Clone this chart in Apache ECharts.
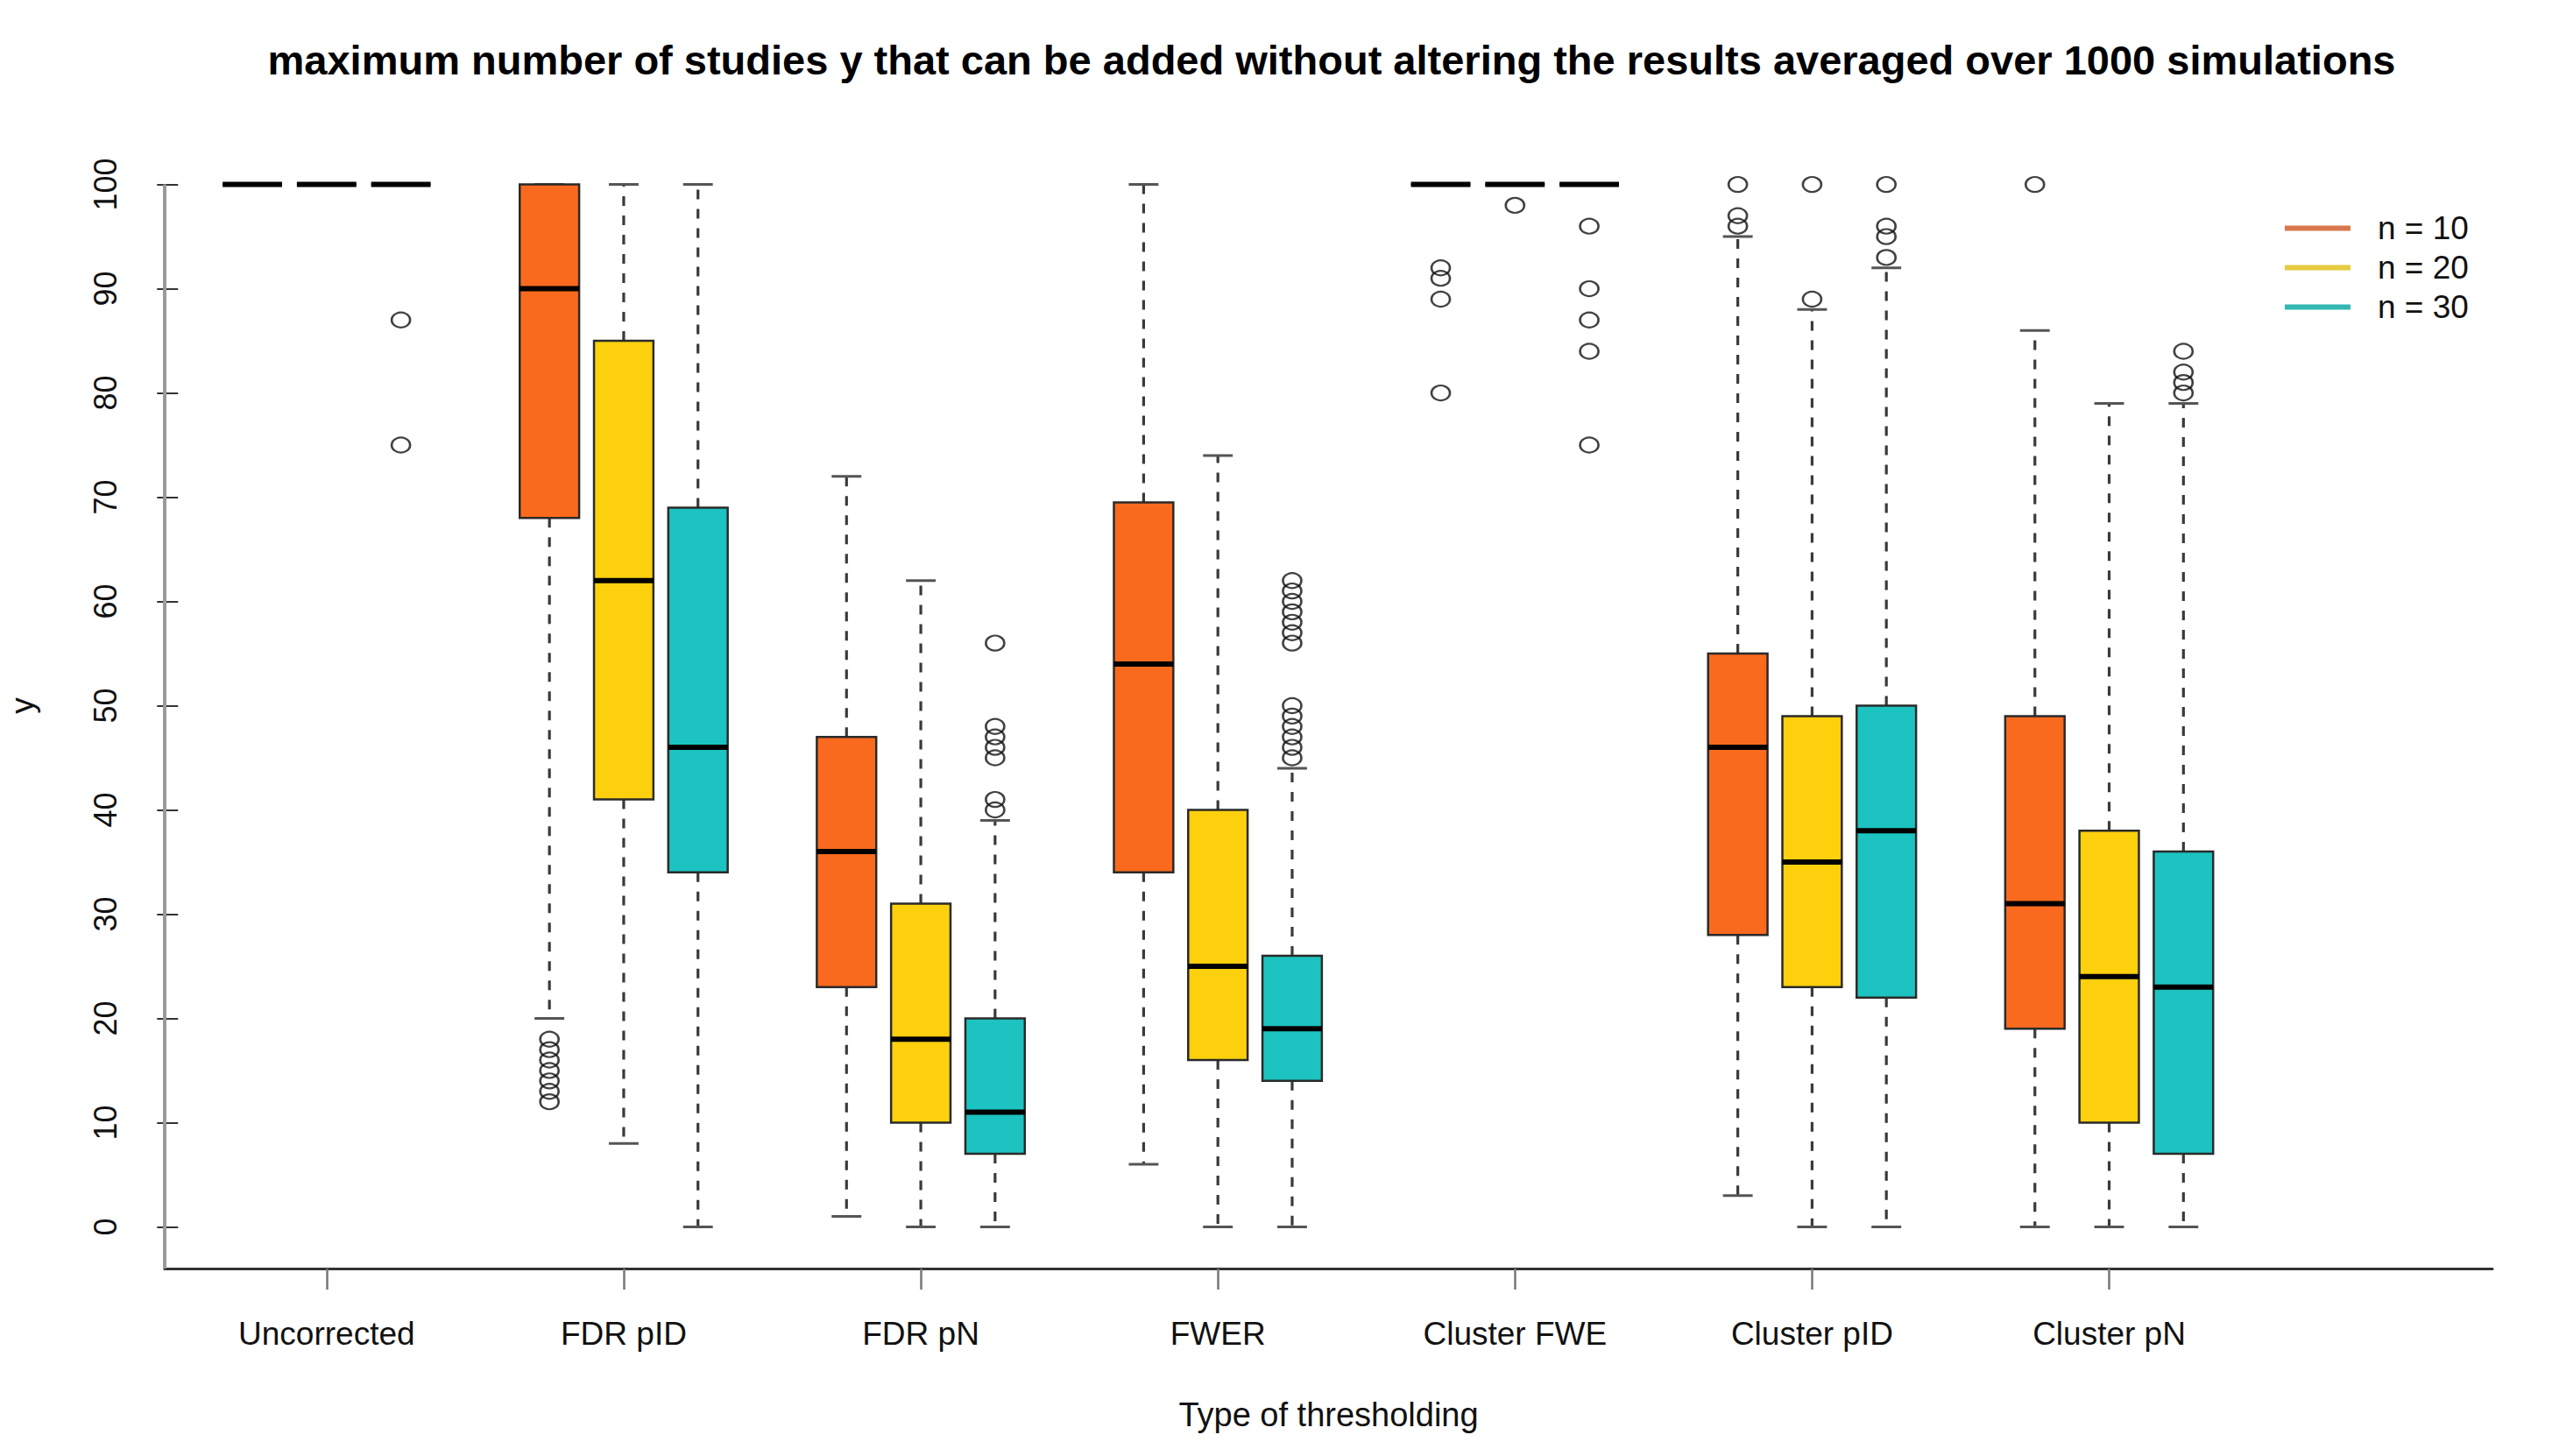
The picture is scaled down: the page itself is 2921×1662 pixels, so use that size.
<!DOCTYPE html>
<html><head><meta charset="utf-8">
<script src="https://cdn.jsdelivr.net/npm/echarts@6/dist/echarts.min.js"></script>
<style>html,body{margin:0;padding:0;background:#fff}#c{width:2921px;height:1662px}</style>
</head><body><div id="c"></div>
<script>
const titleText = 'maximum number of studies y that can be added without altering the results averaged over 1000 simulations';
const xAxisTitle = 'Type of thresholding';
const yAxisTitle = 'y';
const categories = ['Uncorrected', 'FDR pID', 'FDR pN', 'FWER', 'Cluster FWE', 'Cluster pID', 'Cluster pN'];
const groupNames = ['n = 10', 'n = 20', 'n = 30'];
const yTicks = [0, 10, 20, 30, 40, 50, 60, 70, 80, 90, 100];

// per category: [lower whisker, Q1, median, Q3, upper whisker]
const stats10 = [
  [100, 100, 100, 100, 100],
  [20, 68, 90, 100, 100],
  [1, 23, 36, 47, 72],
  [6, 34, 54, 69.5, 100],
  [100, 100, 100, 100, 100],
  [3, 28, 46, 55, 95],
  [0, 19, 31, 49, 86]
];
const stats20 = [
  [100, 100, 100, 100, 100],
  [8, 41, 62, 85, 100],
  [0, 10, 18, 31, 62],
  [0, 16, 25, 40, 74],
  [100, 100, 100, 100, 100],
  [0, 23, 35, 49, 88],
  [0, 10, 24, 38, 79]
];
const stats30 = [
  [100, 100, 100, 100, 100],
  [0, 34, 46, 69, 100],
  [0, 7, 11, 20, 39],
  [0, 14, 19, 26, 44],
  [100, 100, 100, 100, 100],
  [0, 22, 38, 50, 92],
  [0, 7, 23, 36, 79]
];
// outliers: [category index, value]
const outliers10 = [
  [1, 12], [1, 13], [1, 14], [1, 15], [1, 16], [1, 17], [1, 18],
  [4, 92], [4, 91], [4, 89], [4, 80],
  [5, 100], [5, 97], [5, 96],
  [6, 100]
];
const outliers20 = [
  [4, 98],
  [5, 100], [5, 89]
];
const outliers30 = [
  [0, 87], [0, 75],
  [2, 56], [2, 48], [2, 47], [2, 46], [2, 45], [2, 41], [2, 40],
  [3, 62], [3, 61], [3, 60], [3, 59], [3, 58], [3, 57], [3, 56],
  [3, 50], [3, 49], [3, 48], [3, 47], [3, 46], [3, 45],
  [4, 96], [4, 90], [4, 87], [4, 84], [4, 75],
  [5, 100], [5, 96], [5, 95], [5, 93],
  [6, 84], [6, 82], [6, 81], [6, 80]
];

const fillColors = ['#FA6A1E', '#FDD00E', '#1CC3C0'];
const legendColors = ['#D9784E', '#E6CB40', '#34B8B4'];
const FONT = '"Liberation Sans", Arial, sans-serif';
const X_MIN = -0.18, X_MAX = 31.16, Y_MIN = -4, Y_MAX = 104;
const pos = (ci, gi) => 4 * ci + gi + 1;
const tickPos = categories.map((c, i) => pos(i, 1));

function renderBox(params, api) {
  const x = api.value(0);
  const pLo = api.coord([x, api.value(1)]);
  const pQ1 = api.coord([x, api.value(2)]);
  const pMed = api.coord([x, api.value(3)]);
  const pQ3 = api.coord([x, api.value(4)]);
  const pHi = api.coord([x, api.value(5)]);
  const bw = api.size([0.8, 0])[0];
  const cw = bw / 2;
  const cx = pMed[0];
  const fill = api.visual('color');
  const dash = { stroke: '#3a3a3a', lineWidth: 3.2, lineDash: [11, 11] };
  const cap = { stroke: '#555', lineWidth: 3 };
  return {
    type: 'group',
    children: [
      { type: 'line', shape: { x1: cx, y1: pQ1[1], x2: cx, y2: pLo[1] }, style: dash },
      { type: 'line', shape: { x1: cx, y1: pQ3[1], x2: cx, y2: pHi[1] }, style: dash },
      { type: 'line', shape: { x1: cx - cw / 2, y1: pLo[1], x2: cx + cw / 2, y2: pLo[1] }, style: cap },
      { type: 'line', shape: { x1: cx - cw / 2, y1: pHi[1], x2: cx + cw / 2, y2: pHi[1] }, style: cap },
      { type: 'rect', shape: { x: cx - bw / 2, y: pQ3[1], width: bw, height: pQ1[1] - pQ3[1] },
        style: { fill: fill, stroke: '#2a2a2a', lineWidth: 2.5 } },
      { type: 'line', shape: { x1: cx - bw / 2, y1: pMed[1], x2: cx + bw / 2, y2: pMed[1] },
        style: { stroke: '#000', lineWidth: 6 } }
    ]
  };
}

const statsAll = [stats10, stats20, stats30];
const outAll = [outliers10, outliers20, outliers30];
const series = [];
statsAll.forEach((st, g) => {
  series.push({
    name: groupNames[g],
    type: 'custom',
    renderItem: renderBox,
    itemStyle: { color: fillColors[g] },
    encode: { x: 0, y: [1, 2, 3, 4, 5] },
    data: st.map((s, i) => [pos(i, g)].concat(s)),
    z: 3
  });
});
outAll.forEach((out, g) => {
  series.push({
    name: 'out' + g,
    type: 'scatter',
    symbol: 'circle',
    symbolSize: [21, 17],
    itemStyle: { color: 'rgba(0,0,0,0)', borderColor: '#111', borderWidth: 2.4 },
    data: out.map(o => [pos(o[0], g), o[1]]),
    z: 4
  });
});
// left axis line running from the top tick down to the x axis
series.push({
  name: 'yline', type: 'line', silent: true, symbol: 'none', clip: false,
  lineStyle: { color: '#9a9a9a', width: 4 },
  data: [[X_MIN, yTicks[yTicks.length - 1]], [X_MIN, Y_MIN]], z: 1
});

const chart = echarts.init(document.getElementById('c'), null, { renderer: 'svg' });
chart.setOption({
  backgroundColor: '#fff',
  animation: false,
  title: {
    text: titleText, left: 1515, top: 40, textAlign: 'center',
    textStyle: { fontFamily: FONT, fontWeight: 'bold', fontSize: 47, color: '#000' }
  },
  legend: {
    data: groupNames.map((n, g) => ({ name: n, itemStyle: { color: legendColors[g] } })),
    orient: 'vertical', left: 2603, top: 237, icon: 'rect',
    itemWidth: 75, itemHeight: 6, itemGap: 8,
    textStyle: { fontFamily: FONT, fontSize: 37, color: '#111', padding: [0, 0, 0, 26] }
  },
  grid: { left: 188, right: 76, top: 163, bottom: 214, outerBoundsMode: 'none' },
  xAxis: {
    type: 'value', min: X_MIN, max: X_MAX,
    name: xAxisTitle, nameLocation: 'middle', nameGap: 148,
    nameTextStyle: { fontFamily: FONT, fontSize: 38, color: '#111' },
    axisLine: { show: true, onZero: false, lineStyle: { color: '#333', width: 3 } },
    axisTick: { show: true, customValues: tickPos, length: 24, lineStyle: { color: '#777', width: 2.5 } },
    axisLabel: { customValues: tickPos, margin: 56, fontFamily: FONT, fontSize: 37, color: '#111',
      formatter: v => categories[Math.round((v - 1) / 4 - 0.25)] },
    splitLine: { show: false }
  },
  yAxis: {
    type: 'value', min: Y_MIN, max: Y_MAX,
    name: yAxisTitle, nameLocation: 'middle', nameGap: 144, nameRotate: 90,
    nameTextStyle: { fontFamily: FONT, fontSize: 37, color: '#111' },
    axisLine: { show: false },
    axisTick: { show: true, customValues: yTicks, length: 24, lineStyle: { color: '#333', width: 2 } },
    axisLabel: { customValues: yTicks, rotate: 90, margin: 50, fontFamily: FONT, fontSize: 36, color: '#111' },
    splitLine: { show: false }
  },
  series: series
});
</script>
</body></html>
